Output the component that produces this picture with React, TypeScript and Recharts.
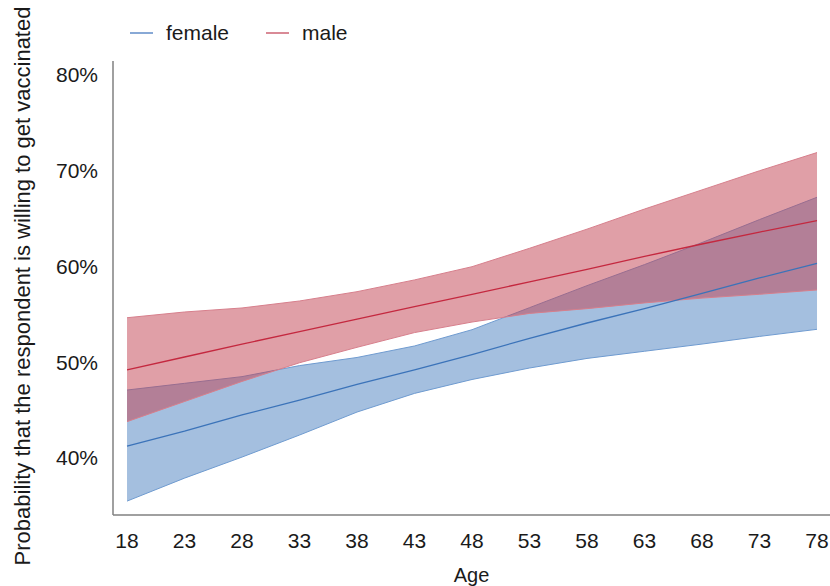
import React from 'react';
import {
    ComposedChart,
    Area,
    Line,
    XAxis,
    YAxis,
} from 'recharts';

const ages = [18, 23, 28, 33, 38, 43, 48, 53, 58, 63, 68, 73, 78];

const femaleFit = [41.25, 42.8, 44.5, 46.05, 47.7, 49.2, 50.8, 52.5, 54.1, 55.6, 57.2, 58.8, 60.33];
const femaleLower = [35.5, 37.9, 40.1, 42.4, 44.8, 46.75, 48.2, 49.4, 50.4, 51.15, 51.9, 52.7, 53.44];
const femaleUpper = [47.1, 47.8, 48.5, 49.65, 50.5, 51.7, 53.4, 55.7, 58.0, 60.2, 62.5, 64.9, 67.23];

const maleFit = [49.2, 50.55, 51.9, 53.2, 54.5, 55.8, 57.1, 58.4, 59.7, 61.05, 62.35, 63.6, 64.78];
const maleLower = [43.8, 45.9, 48.0, 49.95, 51.56, 53.1, 54.2, 55.1, 55.6, 56.2, 56.7, 57.1, 57.55];
const maleUpper = [54.65, 55.25, 55.67, 56.4, 57.37, 58.6, 59.98, 61.9, 63.9, 66.0, 68.0, 70.0, 71.9];

const yTicks = [40, 50, 60, 70, 80];

const FONT = '"Liberation Sans", Arial, sans-serif';
const BLUE = '#3b73b9';
const RED = '#c4283f';

const data = ages.map((age, i) => ({
    age,
    female: femaleFit[i],
    femaleBand: [femaleLower[i], femaleUpper[i]],
    male: maleFit[i],
    maleBand: [maleLower[i], maleUpper[i]],
}));

function YTitle() {
    return (
        <text
            x={22}
            y={286}
            transform="rotate(-90 22 286)"
            textAnchor="middle"
            dominantBaseline="central"
            fontSize={22}
            fontFamily={FONT}
            fill="#1a1a1a"
        >
            Probability that the respondent is willing to get vaccinated
        </text>
    );
}

function Legend() {
    const item = (label: string, color: string, left: number) => (
        <div style={{ position: 'absolute', left, top: 21, display: 'flex', alignItems: 'center' }}>
            <div style={{ width: 23, height: 2, background: color, marginRight: 13 }} />
            <span style={{ fontSize: 21, fontFamily: FONT, color: '#1a1a1a', lineHeight: '24px' }}>
                {label}
            </span>
        </div>
    );
    return (
        <>
            {item('female', '#88a9d6', 130)}
            {item('male', '#d98a96', 266)}
        </>
    );
}

export default function App() {
    return (
        <div style={{ position: 'absolute', left: 0, top: 0, width: 830, height: 586, background: '#fff' }}>
            <ComposedChart
                width={830}
                height={586}
                data={data}
                margin={{ top: 61, right: 0, bottom: 0, left: 0 }}
            >
                <XAxis
                    dataKey="age"
                    type="number"
                    domain={[16.78, 79.13]}
                    allowDataOverflow
                    ticks={ages}
                    interval={0}
                    tickLine={false}
                    tickSize={0}
                    tickMargin={18}
                    axisLine={{ stroke: '#808080', strokeWidth: 1.5 }}
                    tick={{ fill: '#1a1a1a', fontSize: 21, fontFamily: FONT }}
                    height={71}
                    label={{
                        value: 'Age',
                        position: 'insideBottom',
                        offset: 4,
                        fill: '#1a1a1a',
                        fontSize: 20,
                        fontFamily: FONT,
                    }}
                />
                <YAxis
                    type="number"
                    domain={[34.05, 81.46]}
                    allowDataOverflow
                    ticks={yTicks}
                    width={113}
                    tickLine={false}
                    tickSize={0}
                    tickMargin={15}
                    axisLine={{ stroke: '#808080', strokeWidth: 1.5 }}
                    tick={{ fill: '#1a1a1a', fontSize: 21, fontFamily: FONT }}
                    tickFormatter={(v: number) => `${v}%`}
                    label={<YTitle />}
                />
                <Area
                    dataKey="femaleBand"
                    type="linear"
                    stroke="#6f9bd0"
                    strokeWidth={1}
                    fill="#4a7fc0"
                    fillOpacity={0.5}
                    isAnimationActive={false}
                    activeDot={false}
                />
                <Area
                    dataKey="maleBand"
                    type="linear"
                    stroke="#d77f8c"
                    strokeWidth={1}
                    fill="#c2404f"
                    fillOpacity={0.5}
                    isAnimationActive={false}
                    activeDot={false}
                />
                <Line
                    dataKey="female"
                    type="linear"
                    stroke={BLUE}
                    strokeWidth={1.3}
                    dot={false}
                    isAnimationActive={false}
                />
                <Line
                    dataKey="male"
                    type="linear"
                    stroke={RED}
                    strokeWidth={1.3}
                    dot={false}
                    isAnimationActive={false}
                />
            </ComposedChart>
            <Legend />
        </div>
    );
}
